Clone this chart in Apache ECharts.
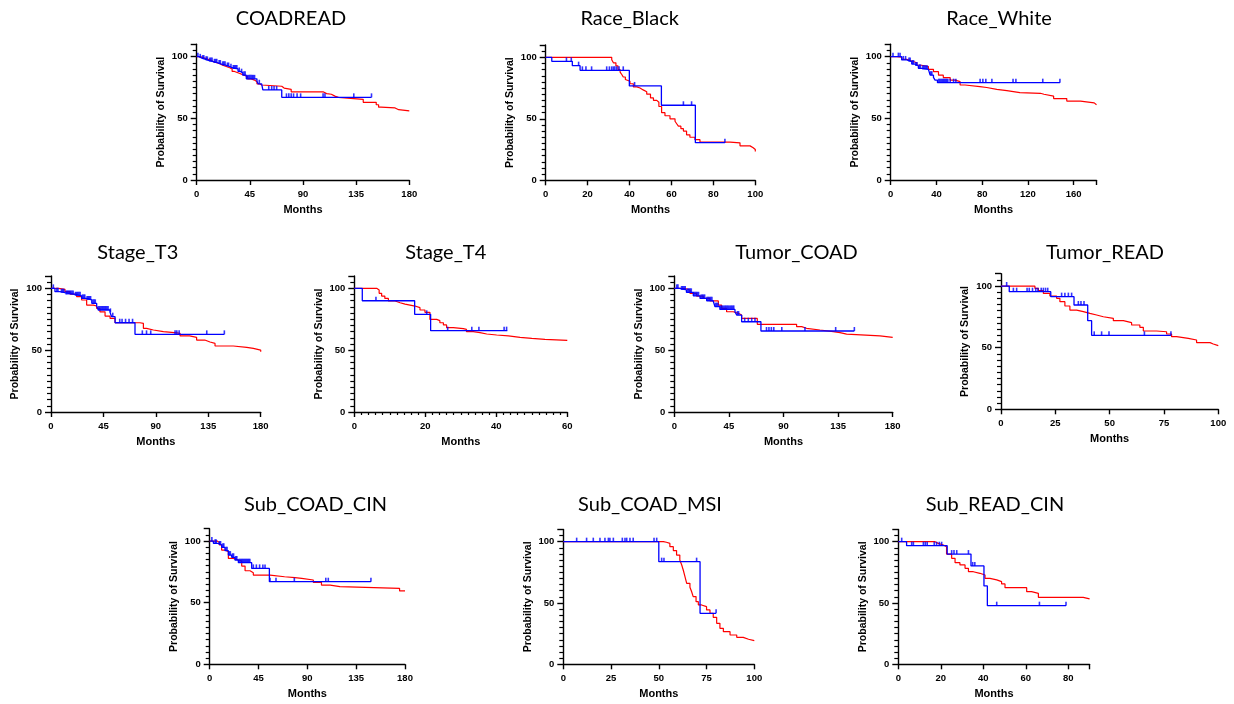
<!DOCTYPE html>
<html>
<head>
<meta charset="utf-8">
<script src="https://cdn.jsdelivr.net/npm/echarts@6/dist/echarts.min.js"></script>
<style>
html,body{margin:0;padding:0;background:#fff;}
#chart{width:1234px;height:704px;}
</style>
</head>
<body>
<div id="chart"></div>
<script>
// ---------- DATA ----------
const panelTitles = ['COADREAD','Race_Black','Race_White','Stage_T3','Stage_T4','Tumor_COAD','Tumor_READ','Sub_COAD_CIN','Sub_COAD_MSI','Sub_READ_CIN'];
const yTickLabels = [0, 50, 100];
const xTickLabelsList = [
  [0,45,90,135,180],[0,20,40,60,80,100],[0,40,80,120,160],
  [0,45,90,135,180],[0,20,40,60],[0,45,90,135,180],[0,25,50,75,100],
  [0,45,90,135,180],[0,25,50,75,100],[0,20,40,60,80]
];

// COADREAD
const coadreadRedT = [0,3,6,9,12,14,17,20,22,25,28,30,32,36,40,43,46,49,51,53,55,72,74,80,107,110,114,117,120,133,141,152,154,156,168,171,180];
const coadreadRedS = [100,99,98,97,96,95,94,93,92,91,90,88,86.5,85,84,82,81,79.7,78,77,76,74.5,73.5,71.5,70,69.5,68,67,66,65.4,63,61,59,58.4,57,56,56];
const coadreadBlueT = [0,2,4,7,10,14,18,21,25,28,30,35,37,39,42,51,52,55,56,72,148];
const coadreadBlueS = [100,99,98,97,96,95,94,93,92,91,90,88,87,85,82,80,78,77,73,67,67];
const coadreadCens = [1,3,5,6,8,9,11,12,13,15,16,17,19,20,22,23,24,26,27,29,31,32,33,34,36,38,40,41,43,44,45,46,47,48,49,53,61,63.5,65.5,67.7,76,78,80,82,85,88,107,108.6,133,148];

// Race_Black
const blackRedT = [0,31.5,32.3,33.5,34.5,35.5,36.3,37,38,38.6,40.2,41.8,43.5,45,46.5,48.2,50,51.4,53,54,55.3,56.9,59.3,61.7,62.5,63.3,64.5,65.7,67.2,68.8,71.2,73.6,88,92.7,97.5,99,100];
const blackRedS = [100,98,95.5,93,90,88,86,84,82,80.5,78.5,76,75,73.5,72,70,67,65,63.5,60,55,52.5,50,48,46,44,42,40,37,35,33,31,30.5,28,26.5,25,23.5];
const blackBlueT = [0,2.9,12.7,16.4,39.9,55.2,71.4,85.5];
const blackBlueS = [100,96.7,93.2,89.4,76.7,61,30.6,30.6];
const blackCens = [9.9,12.2,15.7,17.5,19.2,21.9,29.1,30.4,31.5,32.3,33,33.9,35,37,42.4,65.7,69.6,85.5];

// Race_White
const whiteRedT = [0,5.3,9.6,14,18.4,22.8,27,33,37.4,41.8,46,52,56.4,60.7,65,78,84,92.8,101.6,113,131,134,142.5,154,166,178,180];
const whiteRedS = [100,99.5,97.8,96.5,95,93,92,89.7,87.8,85,83,81,79.7,77,75.7,75,73.5,72.4,70.8,70.3,69.5,68,66,64,62.5,61,61];
const whiteBlueT = [0,9.6,14,18.4,21.3,24.2,27,33,34.5,37.4,38.8,40.9,148];
const whiteBlueS = [100,97.3,96,94,92.4,90.5,89.7,89,85,83.2,81,78.9,78.9];
const whiteCens = [2,6.7,8.2,11,13,16,17,19,20,22,23,25,26,28,29,30,31,32,35,36,42,43,44,45,46,47,48,49,50,52,55,57,78.2,80.6,83.2,88.5,107,109.5,133,148];

// Stage_T3
const t3RedT = [0,6.3,12,16.3,22,26.3,30.6,36.3,39.2,42,46.4,50.7,55,76.4,79.3,82,87.9,96.5,108,110.8,119,125,132,136.5,140.8,156.5,168,173.7,180];
const t3RedS = [100,99.2,97.3,95.4,93.3,90.6,86.5,85.7,83.8,81,77.6,75.7,72.2,71.7,67.7,66.3,65,64,63.6,61.5,60.4,58.2,56.6,55.5,53.4,52.3,51.5,50.1,48.8];
const t3BlueT = [0,3.4,7.7,12,20.6,26.3,30.6,35,39.2,40.6,50.7,52,55,72.1,148.8];
const t3BlueS = [100,97.3,96.5,95.1,94,91.9,90.6,87.9,85.7,82.5,80.6,77.1,72.2,62.8,62.8];
const t3Cens = [2,5,6,9,10,11,13,14,15,16,17,18,19,21,22,23,24,25,27,28,29,31,32,33,34,36,37,38,41,42,43,44,45,46,47,48,49,51,53,59,61,64,67,70,78.4,82,85.6,106.5,108,110,133.7,148.8];

// Stage_T4
const t4RedT = [0,6.3,7,7.7,8.6,9.6,11.5,12.9,14.3,15.7,17.1,18.5,19.9,21.3,23.2,24.1,25.1,26,27.9,30.7,31.6,33.5,35.4,37.3,40.1,43.4,46.7,50,53.7,60];
const t4RedS = [100,98.7,96,93.8,91.9,89.8,88.4,87.3,86.5,85.7,84.4,82.5,80.6,74.9,73.9,72.2,70.4,68.2,67.4,66.8,65,64.2,63.1,62.3,61.5,60.4,59.6,58.8,58,58];
const t4BlueT = [0,2.25,17,21.5,43.1];
const t4BlueS = [100,90,79,65.8,65.8];
const t4Cens = [6.1,20.4,26.3,33.1,35.1,42.2,42.9];

// Tumor_COAD
const coadRedT = [0,4.7,10,12.9,18.4,23.9,29.4,36.3,39,43.1,48.6,52.8,55.5,68.4,100.8,105,109,120,131,136.6,142,169.5,180];
const coadRedS = [100,99.7,98.7,96,93.8,91.9,89.8,86.5,83.8,81.1,79.8,78.4,75.7,70.9,69,67.7,66.3,65,64.2,63,61.5,60.4,60.4];
const coadBlueT = [0,4.7,10,15.7,21.2,26.7,32,33.5,37.6,50,51.4,55.5,71.4,148.4];
const coadBlueS = [100,98.7,96.8,94,91.9,90,88.4,85.2,83,81.1,78.4,73,65.5,65.5];
const coadCens = [2,3,6,7,8,9,11,12,13,14,16,17,18,19,20,22,23,24,25,27,28,29,30,31,34,35,36,38,39,40,41,42,43,44,45,46,47,48,49,52,53,58,61,63.8,66.5,76,78,80,82,88.6,107.7,133,148.4];

// Tumor_READ
const readRedT = [0,15.6,17.2,19.5,22.5,25.6,27.1,29.4,31.7,34.8,37.9,40.9,44,47.1,51.7,56.3,60.1,63.9,65.5,71.6,76.2,78.5,80.8,86.2,90,96.2,97.7,100];
const readRedS = [100,98.1,96.2,94,91.9,90,87.3,83.8,80.5,79.2,77.8,76.5,75.1,73.8,71.9,70.3,68.4,66.5,63.5,62.9,61.1,58.9,57.6,56.2,54.1,53,51.6,51.6];
const readBlueT = [0,3.8,22.9,33.6,39.9,41.7,78.2];
const readBlueS = [100,95.4,91.4,84.6,71.9,60,60];
const readCens = [2.6,5.7,7.2,12,13,14.5,16,17,18.5,19.5,20.5,21.5,27.9,29.4,31,32.5,35.6,36.8,38.2,42.9,46.3,49.7,66,78.2];

// Sub_COAD_CIN
const coadCinRedT = [0,7,8.9,11,14.1,17.2,21.8,26.4,29.5,32.6,37.2,40.2,55.6,69,78.6,84.8,95.5,103,111,120,175,180];
const coadCinRedS = [100,98.9,96.8,92.7,91.4,85.9,84.6,83.8,79.7,75.9,74.3,72.4,71,70.3,69.7,68.4,66.5,64.3,63,61.6,59.5,59.5];
const coadCinBlueT = [0,3.4,8,11,14.1,17.2,20.3,23.3,26.4,38.7,55,148.6];
const coadCinBlueS = [100,98.1,96.8,94.9,92.2,88.6,86.8,84.6,82.4,77.8,67,67];
const coadCinCens = [2,5,6,9,10,12,13,15,16,18,19,21,22,24,25,27,28,29,30,31,32,33,34,35,36,37,40.2,43,46,49,51,55.6,61.1,78,107,109.3,148.6];

// Sub_COAD_MSI
const msiRedT = [0,52.4,54,55.8,57.6,59.3,61,62,62.8,63.7,64.6,66.3,67.2,68,69.5,70.7,72.4,75,76.8,78.5,80.3,82,83.8,87.3,90.8,94.2,97,100];
const msiRedS = [100,99.5,98.6,95.9,92.7,89.1,85,81,76.9,71.5,66,62.8,59.2,55.2,51.1,48.4,47,44.3,41.6,38.3,33.4,29.3,26.6,23.9,22,20.4,19.3,19];
const msiBlueT = [0,50,71.6,80];
const msiBlueS = [100,83.7,41.6,41.6];
const msiCens = [7,12.2,15.7,19.2,21.8,23.6,24.4,26.2,30.9,32.3,33.2,34.9,36.6,47.5,48.9,51.5,52.7,69.8,80];

// Sub_READ_CIN
const readCinRedT = [0,17.3,18.8,21.2,22.7,25.1,26.7,29,31.4,33,35.3,38.4,40.8,43.1,46.3,48.6,50.2,60.4,62.7,65.9,87,90];
const readCinRedS = [100,98.6,97.3,95.9,89.9,86.4,82.9,81,78.3,75.5,74.2,72.8,70.1,68.8,67.4,65.5,62.5,59.2,57.9,54.6,53.3,53.3];
const readCinBlueT = [0,3.9,23,34.2,40.3,41.9,78.9];
const readCinBlueS = [100,96.7,89.9,80.2,63.9,47.8,47.8];
const readCinCens = [1.6,6.3,7.1,11.8,12.7,13.6,16.9,18,19.3,20.4,25.1,26.2,27.5,33,35,36,46.3,66.4,78.9];

const curves = [
  [coadreadRedT, coadreadRedS, coadreadBlueT, coadreadBlueS, coadreadCens],
  [blackRedT, blackRedS, blackBlueT, blackBlueS, blackCens],
  [whiteRedT, whiteRedS, whiteBlueT, whiteBlueS, whiteCens],
  [t3RedT, t3RedS, t3BlueT, t3BlueS, t3Cens],
  [t4RedT, t4RedS, t4BlueT, t4BlueS, t4Cens],
  [coadRedT, coadRedS, coadBlueT, coadBlueS, coadCens],
  [readRedT, readRedS, readBlueT, readBlueS, readCens],
  [coadCinRedT, coadCinRedS, coadCinBlueT, coadCinBlueS, coadCinCens],
  [msiRedT, msiRedS, msiBlueT, msiBlueS, msiCens],
  [readCinRedT, readCinRedS, readCinBlueT, readCinBlueS, readCinCens]
];

// ---------- LAYOUT ----------
const layout = [
  {x0:196.7, x1:409.3, yTop:44.3, y0:180,   xMax:180, xInt:45, tx:291,   ty:9},
  {x0:545.7, x1:755.3, yTop:45,   y0:180.3, xMax:100, xInt:20, tx:629.7, ty:9},
  {x0:890.7, x1:1096.5,yTop:44.3, y0:180,   xMax:180, xInt:40, tx:999,   ty:9},
  {x0:51,    x1:260.7, yTop:276,  y0:412,   xMax:180, xInt:45, tx:137.8, ty:243},
  {x0:354.3, x1:567.3, yTop:276,  y0:412,   xMax:60,  xInt:20, tx:445.8, ty:243, xMinor:true},
  {x0:674.3, x1:892.7, yTop:276,  y0:412,   xMax:180, xInt:45, tx:796.5, ty:243},
  {x0:1001,  x1:1218.3,yTop:273.7,y0:409.3, xMax:100, xInt:25, tx:1105,  ty:243},
  {x0:209.7, x1:405,   yTop:528.7,y0:664.3, xMax:180, xInt:45, tx:315.5, ty:495},
  {x0:563.3, x1:754.3, yTop:529.4,y0:664.3, xMax:100, xInt:25, tx:650,   ty:495},
  {x0:898.3, x1:1089.6,yTop:529.4,y0:664.3, xMax:90,  xInt:20, tx:995,   ty:495}
];

function survAt(ts, ss, t) {
  let v = ss[0];
  for (let i = 0; i < ts.length; i++) { if (ts[i] <= t) v = ss[i]; else break; }
  return v;
}
function zip(a, b) { return a.map((v, i) => [v, b[i]]); }

const FONT = 'Liberation Sans, Arial, sans-serif';
const grids = [], xAxes = [], yAxes = [], series = [], titles = [];

layout.forEach((L, i) => {
  grids.push({left: L.x0, top: L.yTop, width: L.x1 - L.x0, height: L.y0 - L.yTop, containLabel: false});
  titles.push({
    text: panelTitles[i], left: L.tx, top: L.ty, textAlign: 'center', padding: 0,
    textStyle: {fontFamily: 'Lato, Carlito, sans-serif', fontSize: 20, fontWeight: 'normal', color: '#000'}
  });
  const xLabels = xTickLabelsList[i];
  xAxes.push({
    type: 'value', gridIndex: i, min: 0, max: L.xMax, interval: L.xInt,
    name: 'Months', nameLocation: 'middle', nameGap: 24,
    nameTextStyle: {fontFamily: FONT, fontSize: 11, fontWeight: 'bold', color: '#000'},
    axisLine: {show: true, onZero: false, lineStyle: {color: '#000', width: 1.4}},
    axisTick: {show: true, length: 5, lineStyle: {color: '#000', width: 1.4}},
    minorTick: {show: !!L.xMinor, splitNumber: 10, length: 3, lineStyle: {color: '#000', width: 1.2}},
    axisLabel: {fontFamily: FONT, fontSize: 9.5, fontWeight: 'bold', color: '#000', margin: 9,
      formatter: v => (xLabels.indexOf(v) >= 0 ? String(v) : '')},
    splitLine: {show: false}
  });
  yAxes.push({
    type: 'value', gridIndex: i, min: 0, max: 110, interval: 50,
    name: 'Probability of Survival', nameLocation: 'middle', nameGap: 30,
    nameTextStyle: {fontFamily: FONT, fontSize: 10.5, fontWeight: 'bold', color: '#000'},
    axisLine: {show: true, onZero: false, lineStyle: {color: '#000', width: 1.4}},
    axisTick: {show: true, length: 6, lineStyle: {color: '#000', width: 1.4}},
    minorTick: {show: true, splitNumber: 10, length: 4, lineStyle: {color: '#000', width: 1.2}},
    axisLabel: {fontFamily: FONT, fontSize: 9.5, fontWeight: 'bold', color: '#000', margin: 9,
      formatter: v => (yTickLabels.indexOf(v) >= 0 ? String(v) : '')},
    splitLine: {show: false}
  });
  const [rT, rS, bT, bS, cT] = curves[i];
  series.push({
    type: 'line', xAxisIndex: i, yAxisIndex: i, data: zip(rT, rS), step: 'end',
    symbol: 'none', lineStyle: {color: '#ff0000', width: 1.2}, silent: true, z: 2
  });
  series.push({
    type: 'line', xAxisIndex: i, yAxisIndex: i, data: zip(bT, bS), step: 'end',
    symbol: 'none', lineStyle: {color: '#0000ff', width: 1.3}, silent: true, z: 3
  });
  series.push({
    type: 'scatter', xAxisIndex: i, yAxisIndex: i,
    data: cT.map(t => [t, survAt(bT, bS, t)]),
    symbol: 'rect', symbolSize: [1.6, 4], symbolOffset: [0, -2],
    itemStyle: {color: '#0000ff'}, silent: true, z: 4
  });
});

const chart = echarts.init(document.getElementById('chart'), null, {renderer: 'canvas'});
chart.setOption({
  backgroundColor: '#fff',
  animation: false,
  title: titles,
  grid: grids,
  xAxis: xAxes,
  yAxis: yAxes,
  series: series
});
</script>
</body>
</html>
